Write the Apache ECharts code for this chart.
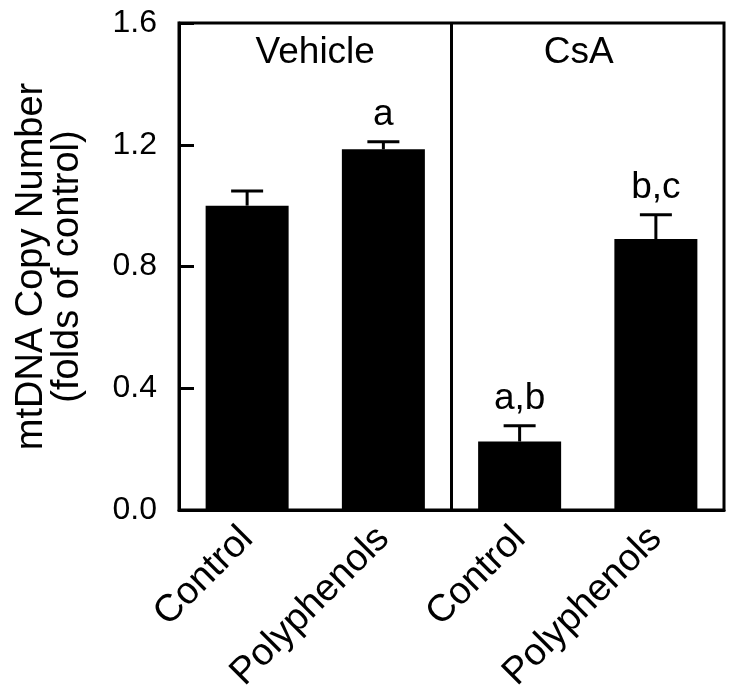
<!DOCTYPE html>
<html>
<head>
<meta charset="utf-8">
<script src="https://cdn.jsdelivr.net/npm/echarts@6/dist/echarts.min.js"></script>
<style>
  html, body { margin: 0; padding: 0; background: #fff; }
  #main { width: 736px; height: 694px; }
</style>
</head>
<body>
<div id="main"></div>
<script>
// data
var categories = ['Control', 'Polyphenols', 'Control', 'Polyphenols'];
var means = [1.0, 1.185, 0.225, 0.89];
var errors = [0.048, 0.025, 0.052, 0.08];
var sigLabels = ['', 'a', 'a,b', 'b,c'];
var panelNames = ['Vehicle', 'CsA'];
var yTicks = [0, 0.4, 0.8, 1.2, 1.6];

var font = 'Liberation Sans, Arial, sans-serif';

var errData = means.map(function (m, i) { return [i, m, errors[i], sigLabels[i]]; });

var myChart = echarts.init(document.getElementById('main'));

myChart.setOption({
  animation: false,
  grid: {
    left: 179,
    right: 12,
    top: 23,
    bottom: 184,
    containLabel: false,
    outerBoundsMode: 'none',
    show: true,
    borderColor: '#000',
    borderWidth: 3
  },
  xAxis: {
    type: 'category',
    data: categories,
    axisLine: { show: true, lineStyle: { color: '#000', width: 3 } },
    axisTick: { show: false },
    axisLabel: {
      rotate: 45,
      margin: 23,
      color: '#000',
      fontSize: 38,
      fontFamily: font
    }
  },
  yAxis: {
    type: 'value',
    min: yTicks[0],
    max: yTicks[yTicks.length - 1],
    interval: 0.4,
    name: 'mtDNA Copy Number\n(folds of control)',
    nameLocation: 'middle',
    nameGap: 93,
    nameTextStyle: {
      color: '#000',
      fontSize: 38,
      fontFamily: font,
      lineHeight: 36
    },
    axisLine: { show: true, lineStyle: { color: '#000', width: 3 } },
    axisTick: { show: true, inside: true, length: 15, lineStyle: { color: '#000', width: 3 } },
    splitLine: { show: false },
    axisLabel: {
      margin: 22,
      color: '#000',
      fontSize: 32,
      fontFamily: font,
      formatter: function (v) { return v.toFixed(1); }
    }
  },
  series: [
    {
      type: 'bar',
      data: means,
      barWidth: 83,
      itemStyle: { color: '#000' }
    },
    {
      type: 'custom',
      data: errData,
      z: 5,
      renderItem: function (params, api) {
        var x = api.value(0);
        var m = api.value(1);
        var e = api.value(2);
        var lbl = api.value(3);
        var base = api.coord([x, m]);
        var top = api.coord([x, m + e]);
        var cap = 16;
        return {
          type: 'group',
          children: [
            { type: 'line', shape: { x1: base[0], y1: base[1], x2: top[0], y2: top[1] },
              style: { stroke: '#000', lineWidth: 3 } },
            { type: 'line', shape: { x1: top[0] - cap, y1: top[1], x2: top[0] + cap, y2: top[1] },
              style: { stroke: '#000', lineWidth: 3 } },
            { type: 'text', x: top[0], y: top[1] - 8,
              style: { text: lbl, fill: '#000', font: '37px ' + font, align: 'center', verticalAlign: 'bottom' } }
          ]
        };
      }
    }
  ]
});

// panel divider and panel titles
var c0 = myChart.convertToPixel({ xAxisIndex: 0 }, 0);
var c1 = myChart.convertToPixel({ xAxisIndex: 0 }, 1);
var c2 = myChart.convertToPixel({ xAxisIndex: 0 }, 2);
var c3 = myChart.convertToPixel({ xAxisIndex: 0 }, 3);
var yTop = myChart.convertToPixel({ yAxisIndex: 0 }, yTicks[yTicks.length - 1]);
var yBot = myChart.convertToPixel({ yAxisIndex: 0 }, yTicks[0]);
var divX = (c1 + c2) / 2;

myChart.setOption({
  graphic: [
    { type: 'line', shape: { x1: divX, y1: yTop, x2: divX, y2: yBot },
      style: { stroke: '#000', lineWidth: 3 }, z: 10 },
    { type: 'text', x: (c0 + c1) / 2, y: yTop + 30,
      style: { text: panelNames[0], fill: '#000', font: '37px ' + font, align: 'center', verticalAlign: 'middle' } },
    { type: 'text', x: (c2 + c3) / 2 - 9, y: yTop + 30,
      style: { text: panelNames[1], fill: '#000', font: '37px ' + font, align: 'center', verticalAlign: 'middle' } }
  ]
});
</script>
</body>
</html>
